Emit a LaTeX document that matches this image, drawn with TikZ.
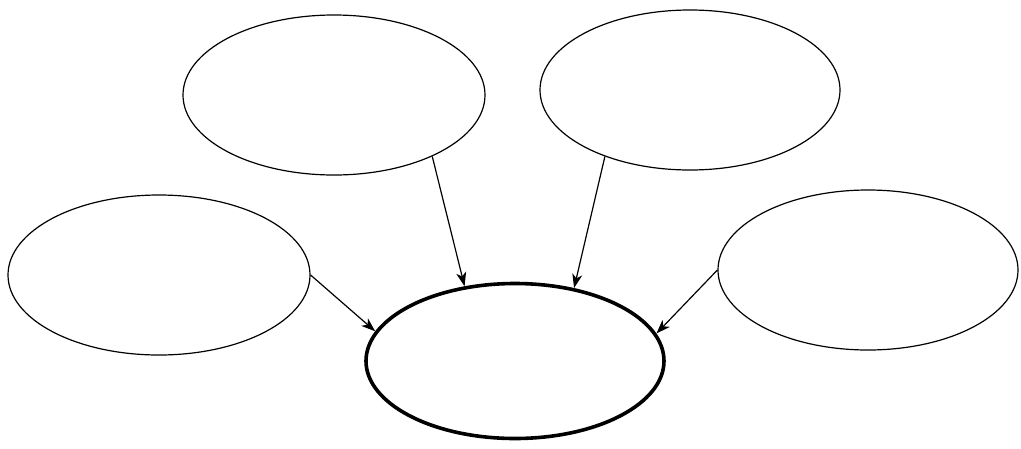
\documentclass[tikz,border=0pt]{standalone}
\usetikzlibrary{shapes.geometric,arrows.meta}
\begin{document}
\begin{tikzpicture}[x=1pt,y=-1pt,
  bubble/.style={draw, ellipse, inner sep=0pt, line width=1.2pt, minimum width=302pt, minimum height=160pt},
  mainbubble/.style={draw, ellipse, inner sep=0pt, line width=3.6pt, minimum width=298pt, minimum height=155pt},
  link/.style={line width=1.2pt, -{Stealth[length=14pt,width=10pt,inset=4pt]}}]
\useasboundingbox (0,0) rectangle (1021,448);
\node[bubble] (tl) at (334,95) {};
\node[bubble, minimum width=300pt] (tr) at (690,90) {};
\node[bubble] (l) at (159,275) {};
\node[bubble, minimum width=300pt] (r) at (868,270) {};
\node[mainbubble] (c) at (515,361) {};
\draw[link] (tl.-32.6) -- (c.124.9);
\draw[link] (tr.-142.6) -- (c.51.4);
\draw[link] (l.0) -- (c.168.8);
\draw[link] (r.180) -- (c.11.3);
\end{tikzpicture}
\end{document}
